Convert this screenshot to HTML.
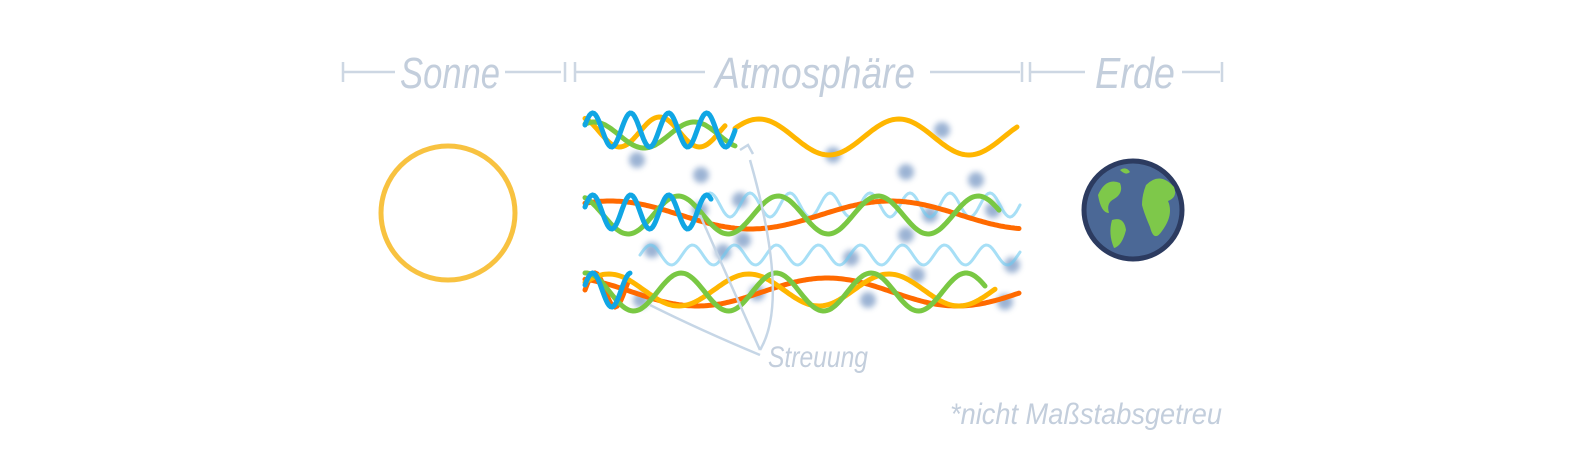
<!DOCTYPE html>
<html><head><meta charset="utf-8">
<style>
html,body{margin:0;padding:0;background:#fff;}
svg{display:block;}
.t{font-family:"Liberation Sans Narrow","Liberation Sans",sans-serif;font-style:italic;fill:#c3cedc;}
</style></head>
<body>
<svg id="s" width="1580" height="450" viewBox="0 0 1580 450">
<defs><filter id="b" x="-50%" y="-50%" width="200%" height="200%"><feGaussianBlur stdDeviation="3"/></filter></defs>
<g stroke="#cdd7e3" stroke-width="2.5" fill="none">
<path d="M343 62v20M343 72h52M505 72h56M565 62v20M575 62v20M575 72h130M930 72h90M1022 62v20M1030 62v20M1030 72h55M1182 72h38M1222 62v20"/>
</g>
<text class="t" x="400" y="88" font-size="44" textLength="100" lengthAdjust="spacingAndGlyphs">Sonne</text>
<text class="t" x="715" y="88" font-size="44" textLength="200" lengthAdjust="spacingAndGlyphs">Atmosphäre</text>
<text class="t" x="1095" y="88" font-size="44" textLength="80" lengthAdjust="spacingAndGlyphs">Erde</text>
<circle cx="448" cy="213" r="67" fill="none" stroke="#f8c240" stroke-width="5"/>
<g>
<circle cx="1133" cy="210" r="49" fill="#4b6896" stroke="#2c3b60" stroke-width="5"/>
<path d="M1098 195q8-18 22-12q4 10-6 16q-8 4-5 14q-8 0-11-18z" fill="#7ec84a"/>
<path d="M1112 220q12-4 14 10q-4 16-12 18q-6-14-2-28z" fill="#7ec84a"/>
<path d="M1146 185q14-14 28 2q4 10-6 14q6 14-6 30q-8 12-12-4q-6-14-8-22q0-10 4-20z" fill="#7ec84a"/>
<path d="M1120 170q6-4 10 2q-4 4-10-2z" fill="#7ec84a"/>
</g>
<g id="dots" fill="#8aa6cc" opacity="0.85" filter="url(#b)"></g>
<g id="waves" fill="none" stroke-linecap="round"></g>
<g fill="none" stroke="#c6d6e6" stroke-width="2.5">
<path d="M760 350Q790 300 750 160"/>
<path d="M760 350Q720 260 700 215"/>
<path d="M760 355Q700 330 650 305"/>
<path d="M740 150l8-5l5 9"/>
</g>
<text class="t" x="768" y="367" font-size="30" textLength="100" lengthAdjust="spacingAndGlyphs">Streuung</text>
<text class="t" x="950" y="424" font-size="30" textLength="272" lengthAdjust="spacingAndGlyphs">*nicht Maßstabsgetreu</text>
</svg>
<script>
const ns="http://www.w3.org/2000/svg";
const waveX0=[585,585,585,735,585,585,585,700,640,585,585,585,585];
const waveX1=[735,735,725,1018,712,1000,1020,1020,1020,630,985,995,1020];
const waveY=[130,135,132,137,212,215,215,205,255,290,292,290,292];
const waveAmp=[17,13,15,18,17,19,14,12,10,17,19,16,14];
const waveLen=[38,100,80,140,38,100,280,40,42,40,95,140,260];
const wavePhase=[0,1,2,0.5,0,2,1,0,0,0,1.5,0.5,2];
const waveColor=["#ff6a00","#79c843","#ffb600","#ffb600","#79c843","#79c843","#ff6a00","#6ccaf0","#6ccaf0","#ff6a00","#79c843","#ffb600","#ff6a00"];
const wg=document.getElementById('waves');
function mk(i,col,w,op){
  let d="";
  for(let x=waveX0[i];x<=waveX1[i];x+=2){
    const y=waveY[i]-waveAmp[i]*Math.sin(2*Math.PI*(x-waveX0[i])/waveLen[i]+wavePhase[i]);
    d+=(d?"L":"M")+x+" "+y.toFixed(1);
  }
  const p=document.createElementNS(ns,'path');
  p.setAttribute('d',d);p.setAttribute('stroke',col);p.setAttribute('stroke-width',w);p.setAttribute('opacity',op);
  
  
  wg.appendChild(p);
}
[7,8].forEach(i=>mk(i,waveColor[i],3,0.6));
[6,12,9,2,11,1,5,10,3].forEach(i=>mk(i,waveColor[i],5,1));
const blueX0=[585,585,585];const blueX1=[735,712,630];const blueY=[130,212,290];
blueX0.forEach((x0,k)=>{
  let d="";
  for(let x=x0;x<=blueX1[k];x+=1.5){const y=blueY[k]-17*Math.sin(2*Math.PI*(x-x0)/38+0.3);d+=(d?"L":"M")+x+" "+y.toFixed(1);}
  const p=document.createElementNS(ns,'path');
  p.setAttribute('d',d);p.setAttribute('stroke','#10a6e4');p.setAttribute('stroke-width',5);
  
  
  wg.appendChild(p);
});
const dotX=[637,701,740,833,906,942,976,993,652,743,906,930,700,723,851,917,641,757,868,1005,1012];
const dotY=[160,175,200,155,172,130,180,210,250,240,235,215,210,252,258,275,300,293,300,302,265];
const dg=document.getElementById('dots');
dotX.forEach((x,i)=>{
  const c=document.createElementNS(ns,'circle');
  c.setAttribute('cx',x);c.setAttribute('cy',dotY[i]);c.setAttribute('r',8);
  
  
  dg.appendChild(c);
});
</script>
</body></html>
